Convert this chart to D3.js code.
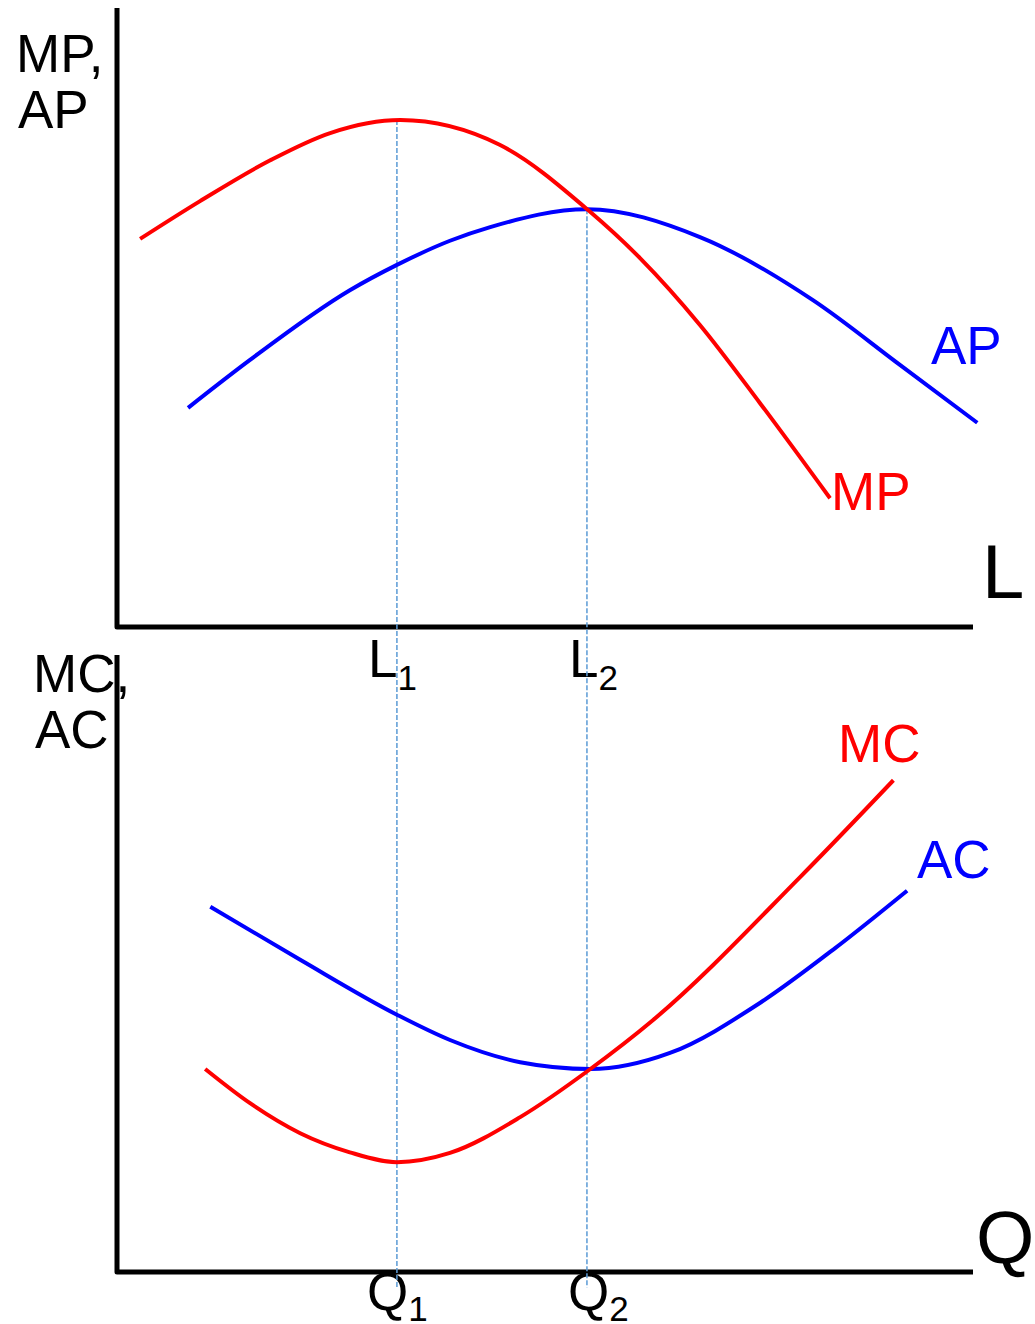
<!DOCTYPE html>
<html>
<head>
<meta charset="utf-8">
<script src="https://cdn.jsdelivr.net/npm/d3@7"></script>
<style>
  html, body { margin: 0; padding: 0; background: #fff; }
  svg { display: block; }
  text { font-family: "Liberation Sans", Arial, sans-serif; }
</style>
</head>
<body>
<svg id="chart" width="1035" height="1324"></svg>
<script>
// ---- Data (units: input / output on a 0–10 scale) ----
const labourMP = [0.27, 0.97, 1.79, 2.49, 3.31, 4.47, 5.50, 6.11, 6.81, 7.51, 8.33];
const mpValues = [6.27, 6.88, 7.54, 7.98, 8.19, 7.79, 6.74, 5.96, 4.88, 3.62, 2.08];

const labourAP = [0.83, 1.55, 2.72, 3.27, 3.89, 4.36, 5.49, 6.81, 8.13, 9.15, 10.05];
const apValues = [3.54, 4.31, 5.44, 5.85, 6.24, 6.46, 6.75, 6.30, 5.28, 4.23, 3.30];

const outputAC = [1.09, 2.14, 3.27, 3.89, 4.71, 5.53, 6.46, 7.51, 8.39, 9.23];
const acValues = [5.92, 5.06, 4.17, 3.76, 3.40, 3.29, 3.55, 4.36, 5.25, 6.18];

const outputMC = [1.03, 1.55, 2.14, 2.72, 3.27, 3.89, 4.71, 5.53, 6.26, 7.98, 9.07];
const mcValues = [3.29, 2.74, 2.25, 1.94, 1.78, 1.93, 2.51, 3.29, 4.08, 6.40, 7.97];

// Key points: L1 = max MP, L2 = max AP (MP = AP); Q1, Q2 line up below them
const keyX = [3.27, 5.49];
const keyTop = [8.19, 6.75];
const tickBase = { top: "L", bottom: "Q" };
const tickSubs = ["1", "2"];

// ---- Layout ----
const svg = d3.select("#chart");
const x = d3.scaleLinear().domain([0, 10]).range([117, 973]);
const yTop = d3.scaleLinear().domain([0, 10]).range([627, 8]);
const yBot = d3.scaleLinear().domain([0, 10]).range([1272, 655]);

const RED = "#ff0000", BLUE = "#0000ff", BLACK = "#000";
const FS = 53;

function line(yScale) {
  return d3.line()
    .x(d => x(d[0]))
    .y(d => yScale(d[1]))
    .curve(d3.curveMonotoneX);
}
const zip = (a, b) => a.map((v, i) => [v, b[i]]);

// ---- Axis titles ----
function label(txt, px, py, color, size) {
  svg.append("text").attr("x", px).attr("y", py)
    .attr("fill", color).attr("font-size", size).text(txt);
}
label("MP,", 16, 72, BLACK, FS);
label("AP", 18, 128, BLACK, FS);
label("MC,", 33, 692, BLACK, FS);
label("AC", 35, 748, BLACK, FS);
label("L", 982, 598, BLACK, 76);
label("Q", 976, 1263, BLACK, 75);

// ---- Axes (L-shaped frames) ----
function frame(yScale) {
  svg.append("path")
    .attr("d", d3.line()([[x(0), yScale(10)], [x(0), yScale(0)], [x(10), yScale(0)]]))
    .attr("fill", "none").attr("stroke", BLACK)
    .attr("stroke-width", 5).attr("stroke-linejoin", "round");
}
frame(yTop);
frame(yBot);

// ---- Tick labels with subscripts ----
const labelShiftTop = [-29, -18];
const labelShiftBot = [-30, -19];
function tickLabel(base, sub, px, py, subDy) {
  const t = svg.append("text").attr("x", px).attr("y", py)
    .attr("fill", BLACK).attr("font-size", FS);
  t.append("tspan").text(base);
  t.append("tspan").attr("font-size", 35).attr("dy", subDy).text(sub);
}
keyX.forEach((k, i) => {
  tickLabel(tickBase.top, tickSubs[i], x(k) + labelShiftTop[i], yTop(0) + 50, 13);
  tickLabel(tickBase.bottom, tickSubs[i], x(k) + labelShiftBot[i], yBot(0) + 38, 11);
});

// ---- Dashed guide lines ----
keyX.forEach((k, i) => {
  svg.append("line")
    .attr("x1", x(k)).attr("x2", x(k))
    .attr("y1", yTop(keyTop[i])).attr("y2", yBot(-0.25))
    .attr("stroke", "#5b9bd5").attr("stroke-width", 1.5)
    .attr("stroke-dasharray", "5,2");
});

// ---- Curves ----
function curve(xs, ys, yScale, color) {
  svg.append("path")
    .attr("d", line(yScale)(zip(xs, ys)))
    .attr("fill", "none").attr("stroke", color).attr("stroke-width", 4);
}
curve(labourAP, apValues, yTop, BLUE);
curve(labourMP, mpValues, yTop, RED);
curve(outputAC, acValues, yBot, BLUE);
curve(outputMC, mcValues, yBot, RED);

// ---- Curve labels ----
label("AP", 931, 364, BLUE, FS);
label("MP", 831, 510, RED, FS);
label("MC", 838, 762, RED, FS);
label("AC", 917, 878, BLUE, FS);
</script>
</body>
</html>
